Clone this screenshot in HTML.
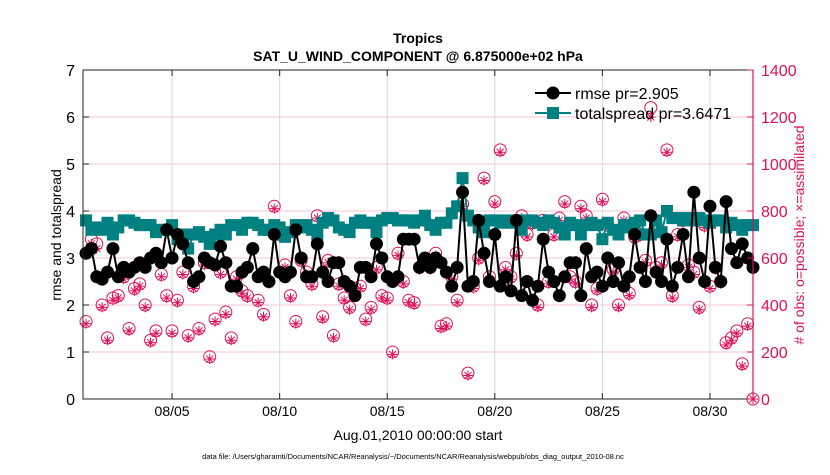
<!DOCTYPE html>
<html><head><meta charset="utf-8"><style>
body{margin:0;background:#fff;width:830px;height:470px;overflow:hidden;font-family:"Liberation Sans",sans-serif}
svg text{font-family:"Liberation Sans",sans-serif}
</style></head><body>
<svg id="chart" width="830" height="470" xmlns="http://www.w3.org/2000/svg">
<text x="418" y="43" text-anchor="middle" font-size="14" font-weight="bold">Tropics</text>
<text x="418" y="61" text-anchor="middle" font-size="14" font-weight="bold">SAT_U_WIND_COMPONENT @ 6.875000e+02 hPa</text>
<g id="grid"></g><g id="obsg"></g><g id="lines"></g>
<rect x="83" y="70" width="670" height="329" fill="none" stroke="#222" stroke-width="1"/>
<line x1="753" y1="70" x2="753" y2="399" stroke="#e0105a" stroke-width="1.2"/>
<g id="axes"></g>
<text transform="translate(61,235) rotate(-90)" text-anchor="middle" font-size="14">rmse and totalspread</text>
<text transform="translate(804,235) rotate(-90)" text-anchor="middle" font-size="14" fill="#e0105a"># of obs: o=possible; ×=assimilated</text>
<text x="418" y="440" text-anchor="middle" font-size="14">Aug.01,2010 00:00:00 start</text>
<text x="413" y="459" text-anchor="middle" font-size="7.5">data file: /Users/gharamti/Documents/NCAR/Reanalysis/~/Documents/NCAR/Reanalysis/webpub/obs_diag_output_2010-08.nc</text>
<g id="legend">
<line x1="535" y1="93" x2="571" y2="93" stroke="#000" stroke-width="2"/><circle cx="553" cy="93" r="6.5" fill="#000"/>
<text x="575" y="99" font-size="16">rmse pr=2.905</text>
<line x1="535" y1="113" x2="571" y2="113" stroke="#008080" stroke-width="2"/><rect x="547" y="107" width="12" height="12" fill="#008080"/>
<text x="575" y="119" font-size="16">totalspread pr=3.6471</text>
</g>
</svg>
<script>
const rmse=[3.1,3.2,2.6,2.55,2.7,3.2,2.6,2.8,2.7,2.8,2.9,2.8,3.0,3.1,2.9,3.6,3.0,3.5,3.3,2.9,2.5,2.6,3.0,2.9,2.85,3.25,2.9,2.4,2.4,2.7,2.8,3.2,2.6,2.7,2.5,3.5,2.7,2.6,2.7,3.6,3.0,2.6,2.6,3.3,2.7,2.5,2.9,2.9,2.5,2.4,2.2,2.8,2.8,2.6,3.3,3.0,2.6,2.5,2.6,3.4,3.4,3.4,2.8,3.0,2.8,3.0,2.9,2.7,2.4,2.8,4.4,2.4,2.5,3.8,3.1,2.5,3.5,2.4,2.6,2.3,3.8,2.2,2.5,2.1,2.4,3.4,2.7,2.5,2.2,2.6,2.9,2.9,2.2,3.2,2.6,2.7,2.4,3.0,2.5,2.9,2.4,2.6,3.5,2.8,2.5,3.9,2.7,2.5,3.4,2.4,2.8,3.5,2.6,4.4,3.0,2.5,4.1,2.8,2.5,4.2,3.2,2.9,3.3,3.0,2.8];
const spread=[3.8,3.6,3.65,3.6,3.75,3.5,3.65,3.8,3.8,3.75,3.7,3.7,3.7,3.55,3.6,3.6,3.7,3.4,3.5,3.2,3.5,3.55,3.45,3.3,3.5,3.6,3.5,3.7,3.7,3.6,3.75,3.75,3.7,3.6,3.6,3.7,3.65,3.45,3.55,3.7,3.65,3.7,3.6,3.5,3.75,3.85,3.8,3.65,3.6,3.55,3.75,3.8,3.75,3.75,3.55,3.8,3.85,3.85,3.8,3.8,3.8,3.75,3.8,3.9,3.7,3.6,3.75,3.75,3.95,4.1,4.7,3.9,3.8,3.65,3.55,3.8,3.8,3.75,3.8,3.75,3.8,3.6,3.8,3.8,3.75,3.7,3.8,3.75,3.65,3.5,3.75,3.7,3.5,3.7,3.75,3.7,3.4,3.75,3.6,3.5,3.7,3.65,3.75,3.8,3.5,3.5,3.8,3.55,4.0,3.85,3.85,3.8,3.85,3.8,3.85,3.8,3.75,3.8,3.8,3.65,3.75,3.7,3.6,3.7,3.7];
const obsPossible=[330,680,660,400,260,430,440,520,300,470,490,400,250,290,530,440,290,420,540,270,480,300,580,180,340,540,370,260,520,460,440,640,420,360,500,820,700,570,440,330,590,540,490,780,350,590,270,490,430,390,470,480,340,390,560,440,430,200,620,500,420,410,560,760,560,620,310,320,520,420,830,110,480,600,940,520,840,1060,560,520,620,780,700,750,400,760,500,700,770,840,520,500,820,780,400,470,850,740,550,400,770,450,690,700,590,1240,560,580,1060,440,700,760,570,540,390,740,480,560,500,240,260,290,150,320,0];
const obsAssim=[320,660,640,390,250,420,430,510,290,460,480,390,240,280,520,430,280,410,530,260,470,290,570,170,330,530,360,250,510,450,430,630,410,350,490,810,690,560,430,320,580,530,480,770,340,580,260,480,420,380,460,470,330,380,550,430,420,190,610,490,410,400,550,750,550,610,300,310,510,410,820,100,470,590,930,510,830,1050,550,510,610,770,690,740,390,750,490,690,760,830,510,490,810,770,390,460,840,730,540,390,760,440,680,690,580,1200,550,570,1050,430,690,750,560,530,380,730,470,550,490,230,250,280,140,310,0];
const xTicks=[5,10,15,20,25,30];
const xTickLabels=["08/05","08/10","08/15","08/20","08/25","08/30"];
const yTicks=[0,1,2,3,4,5,6,7];
const y2Ticks=[0,200,400,600,800,1000,1200,1400];
const NS="http://www.w3.org/2000/svg";
const X0=83,X1=753,Y0=399,Y1=70,D0=0.86,D1=32;
const xs=d=>X0+(d-D0)/(D1-D0)*(X1-X0);
const ys=v=>Y0-v/7*(Y0-Y1);
const ys2=v=>Y0-v/1400*(Y0-Y1);
const dayOf=i=>1+i/4;
function mk(tag,attrs,parent){const e=document.createElementNS(NS,tag);for(const k in attrs)e.setAttribute(k,attrs[k]);parent.appendChild(e);return e;}
const grid=document.getElementById('grid'),axes=document.getElementById('axes'),obsg=document.getElementById('obsg'),lines=document.getElementById('lines');
yTicks.forEach(v=>{const y=ys(v);
 if(v>0&&v<7){const g=mk('line',{x1:X0,x2:X1,y1:y,y2:y,stroke:'#f5c6d6','stroke-width':1},grid);
 
 }
 mk('line',{x1:X0,x2:X0+6,y1:y,y2:y,stroke:'#222'},axes);
 const t=mk('text',{x:X0-8,y:y+6,'text-anchor':'end','font-size':16},axes);t.textContent=v;
 
 });
y2Ticks.forEach(v=>{const y=ys2(v);
 mk('line',{x1:X1-6,x2:X1,y1:y,y2:y,stroke:'#e0105a'},axes);
 const t=mk('text',{x:X1+8,y:y+6,'font-size':16,fill:'#e0105a'},axes);t.textContent=v;
 
 });
xTicks.forEach((d,i)=>{const x=xs(d);
 const g=mk('line',{x1:x,x2:x,y1:Y1,y2:Y0,stroke:'#d8d8d8'},grid);
 
 
 mk('line',{x1:x,x2:x,y1:Y0,y2:Y0-6,stroke:'#222'},axes);mk('line',{x1:x,x2:x,y1:Y1,y2:Y1+6,stroke:'#222'},axes);
 const t=mk('text',{x:x,y:416,'text-anchor':'middle','font-size':14},axes);t.textContent=xTickLabels[i];
 
 });
obsPossible.forEach((v,i)=>{const x=xs(dayOf(i)),y=ys2(v);
 const c=mk('circle',{cx:x,cy:y,r:6,fill:'none',stroke:'#e0105a','stroke-width':1},obsg);
 
 });
obsAssim.forEach((v,i)=>{const x=xs(dayOf(i)),y=ys2(v);const r=5;
 const p=mk('path',{d:`M${x-r},${y}H${x+r}M${x},${y-r}V${y+r}M${x-r*.7},${y-r*.7}L${x+r*.7},${y+r*.7}M${x-r*.7},${y+r*.7}L${x+r*.7},${y-r*.7}`,stroke:'#e0105a','stroke-width':1,fill:'none'},obsg);
 
 });
function series(arr,color,name,square){
 const pts=arr.map((v,i)=>xs(dayOf(i))+','+ys(v)).join(' ');
 const l=mk('polyline',{points:pts,fill:'none',stroke:color,'stroke-width':2},lines);
 
 
 arr.forEach((v,i)=>{const x=xs(dayOf(i)),y=ys(v);let m;
  if(square)m=mk('rect',{x:x-6,y:y-6,width:12,height:12,fill:color},lines);
  else m=mk('circle',{cx:x,cy:y,r:6.5,fill:color},lines);
  
  });
}
series(spread,'#008080','totalspread',true);
series(rmse,'#000','rmse',false);
</script>
</body></html>
